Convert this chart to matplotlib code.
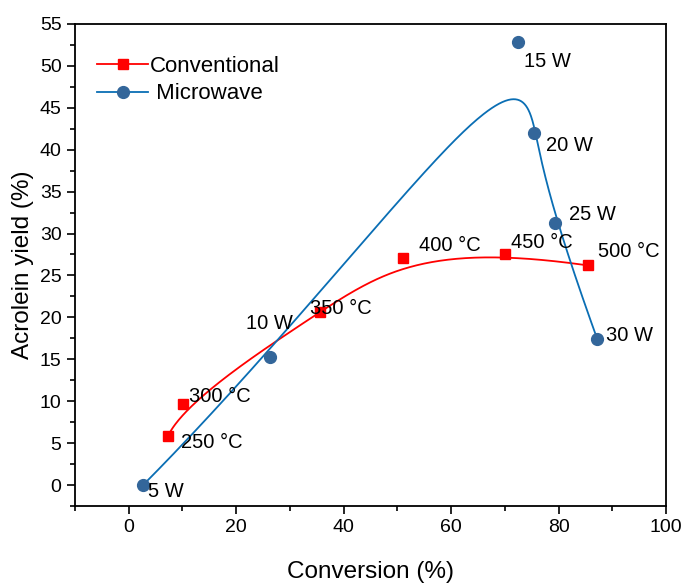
import numpy as np
import matplotlib
matplotlib.use("Agg")
import matplotlib.pyplot as plt
from matplotlib.ticker import MultipleLocator

plt.rcParams["font.family"] = ["Liberation Sans", "DejaVu Sans"]

# Conventional heating
conv_x = [7.3, 10.1, 35.6, 51.1, 70.1, 85.4]
conv_y = [5.8, 9.7, 20.7, 27.1, 27.6, 26.2]
conv_labels = ["250 °C", "300 °C", "350 °C", "400 °C", "450 °C", "500 °C"]

# Microwave heating
mw_x = [2.7, 26.4, 72.5, 75.5, 79.4, 87.2]
mw_y = [0.0, 15.3, 52.8, 42.0, 31.3, 17.4]
mw_labels = ["5 W", "10 W", "15 W", "20 W", "25 W", "30 W"]


def bspline(xs, ys, k=3, num=300):
    """Clamped uniform B-spline using the data points as control points."""
    P = np.column_stack([xs, ys])
    n = len(P)
    knots = np.concatenate([np.zeros(k), np.arange(0, n - k + 1), np.full(k, n - k)]).astype(float)
    u = np.linspace(0, n - k, num)
    u[-1] -= 1e-9

    def basis(i, d, t):
        if d == 0:
            return ((knots[i] <= t) & (t < knots[i + 1])).astype(float)
        a = 0.0
        b = 0.0
        den1 = knots[i + d] - knots[i]
        den2 = knots[i + d + 1] - knots[i + 1]
        if den1 > 0:
            a = (t - knots[i]) / den1 * basis(i, d - 1, t)
        if den2 > 0:
            b = (knots[i + d + 1] - t) / den2 * basis(i + 1, d - 1, t)
        return a + b

    out = np.zeros((num, 2))
    for i in range(n):
        out += basis(i, k, u)[:, None] * P[i]
    return out[:, 0], out[:, 1]


fig = plt.figure(figsize=(6.86, 5.83), dpi=100)
ax = fig.add_axes([0.109, 0.132, 0.862, 0.827])

red = "#ff0000"
blue_line = "#0a6eb4"
blue_mark = "#33669a"

cx, cy = bspline(conv_x, conv_y)
mx, my = bspline(mw_x, mw_y)
ax.plot(cx, cy, color=red, lw=1.3, zorder=2)
ax.plot(mx, my, color=blue_line, lw=1.3, zorder=2)
ax.plot(conv_x, conv_y, "s", color=red, ms=7.5, zorder=3)
ax.plot(mw_x, mw_y, "o", color=blue_mark, ms=8.5, zorder=3)

# legend proxies
ax.plot([], [], "-s", color=red, lw=1.3, ms=7.5, label="Conventional")
ax.plot([], [], "-o", color=blue_line, mfc=blue_mark, mec=blue_mark, lw=1.3, ms=8.5, label=" Microwave")

conv_off = [(2.5, -0.7), (1.2, 0.9), (-1.9, 0.4), (3.0, 1.5), (1.0, 1.3), (2.0, 1.6)]
mw_off = [(1.0, -0.8), (-4.5, 4.0), (1.0, -2.3), (2.1, -1.5), (2.5, 1.0), (1.7, 0.4)]
for x, y, s, (dx, dy) in zip(conv_x, conv_y, conv_labels, conv_off):
    ax.text(x + dx, y + dy, s, fontsize=14.5, ha="left", va="center")
for x, y, s, (dx, dy) in zip(mw_x, mw_y, mw_labels, mw_off):
    ax.text(x + dx, y + dy, s, fontsize=14.5, ha="left", va="center")

ax.set_xlim(-10, 100)
ax.set_ylim(-2.5, 55)
ax.xaxis.set_major_locator(MultipleLocator(20))
ax.xaxis.set_minor_locator(MultipleLocator(10))
ax.yaxis.set_major_locator(MultipleLocator(5))
ax.yaxis.set_minor_locator(MultipleLocator(2.5))
ax.tick_params(which="both", direction="out", top=False, right=False, labelsize=14, width=1.2)
ax.tick_params(which="major", length=6)
ax.tick_params(which="minor", length=3.5)
for sp in ax.spines.values():
    sp.set_linewidth(1.3)

ax.set_xlabel("Conversion (%)", fontsize=17.5, labelpad=18)
ax.set_ylabel("Acrolein yield (%)", fontsize=17.5, labelpad=4)

ax.legend(loc="upper left", bbox_to_anchor=(0.0, 0.98), frameon=False, fontsize=16,
          handlelength=2.3, handletextpad=0.1, labelspacing=0.3, borderaxespad=0.6)

fig.savefig("out.png", dpi=100)
